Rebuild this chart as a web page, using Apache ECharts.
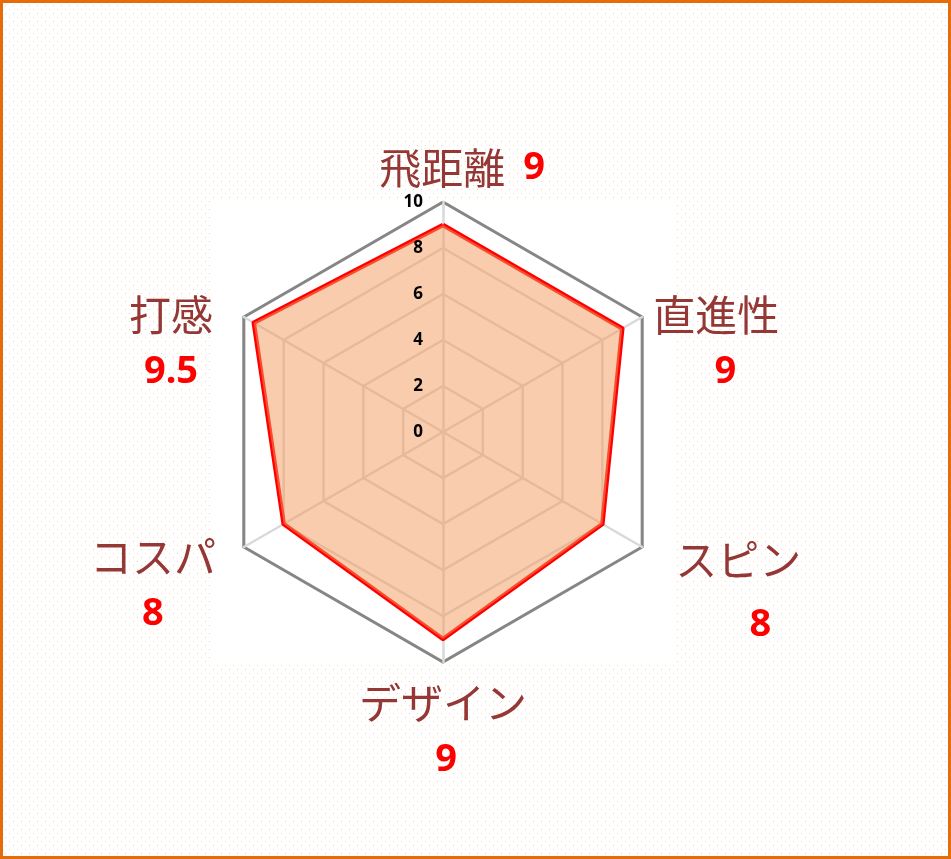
<!DOCTYPE html>
<html>
<head>
<meta charset="utf-8">
<script src="https://cdn.jsdelivr.net/npm/echarts@6/dist/echarts.min.js"></script>
<style>
html,body{margin:0;padding:0;width:951px;height:859px;overflow:hidden;}
#wrap{position:relative;width:951px;height:859px;background-color:#fff;
background-image:url("data:image/svg+xml,%3Csvg xmlns='http://www.w3.org/2000/svg' width='8' height='8'%3E%3Crect x='1' y='1' width='1' height='1' fill='%23fbcfa8'/%3E%3Crect x='5' y='5' width='1' height='1' fill='%23fbcfa8'/%3E%3C/svg%3E");}
#chart{position:absolute;left:0;top:0;width:951px;height:859px;}
#border{position:absolute;left:0;top:0;width:951px;height:859px;box-sizing:border-box;border:3px solid #E46C0A;pointer-events:none;}
</style>
</head>
<body>
<div id="wrap"><div id="chart"></div><div id="border"></div></div>
<script>
// ---- data (clockwise from top) ----
const categories = ['飛距離', '直進性', 'スピン', 'デザイン', 'コスパ', '打感'];
const scores = [9, 9, 8, 9, 8, 9.5];
const maxScore = 10;
const tickStep = 2;

// ---- layout (label placement only, same order as categories) ----
const nameGaps = [34, 51, 104, 70, 98, 50];
const namePads = [
  [0, 0, 0, 38],
  [104, 0, 0, 60],
  [0, 0, 21, 12],
  [0, 0, 0, 0],
  [0, 12, 20, 0],
  [103, 59, 0, 0]
];
// value-line styles per category (layout only)
const valueStyles = ['vt', 'v1', 'vs', 'v3', 'v', 'v'];

const C = [443, 432], R = 230;
// ECharts lays indicators out counter-clockwise; map clockwise order onto it
const order = categories.map((c, i) => (categories.length - i) % categories.length);
const ordCats = order.map(i => categories[i]);
const ordScores = order.map(i => scores[i]);

const indicators = order.map(i => ({
  name: categories[i], max: maxScore, min: 0, nameGap: nameGaps[i],
  nameTextStyle: { padding: namePads[i], align: 'center', verticalAlign: 'middle' }
}));

const labelIndicators = ordCats.map((c, k) => {
  const o = { name: c, max: maxScore, min: 0 };
  if (k === 0) {
    o.axisLabel = { show: true, fontSize: 17, fontWeight: 'bold', color: '#000',
      fontFamily: 'Noto Sans', margin: 20, showMinLabel: true, showMaxLabel: true };
  }
  return o;
});

const vBase = { fontFamily: 'Noto Sans', fontSize: 38, fontWeight: 'bold', color: '#FF0000', lineHeight: 57 };

const chart = echarts.init(document.getElementById('chart'), null, { renderer: 'canvas' });
chart.setOption({
  animation: false,
  graphic: [{
    type: 'rect', z: -10, silent: true,
    shape: { x: 213, y: 200, width: 463, height: 462 },
    style: { fill: '#ffffff' }
  }],
  radar: [{
    center: C, radius: R, startAngle: 90,
    shape: 'polygon', splitNumber: maxScore / tickStep,
    indicator: indicators,
    axisName: {
      show: true,
      formatter: function (name) {
        const i = categories.indexOf(name);
        const v = scores[i];
        const s = valueStyles[i];
        if (i === 0) return '{n|' + name + '}{' + s + '|' + v + '}';
        return '{n|' + name + '}\n{' + s + '|' + v + '}';
      },
      rich: {
        n: { fontFamily: 'Noto Sans CJK JP', fontSize: 42, color: '#953735', lineHeight: 57 },
        v: vBase,
        vt: Object.assign({}, vBase, { padding: [0, 0, 0, 18] }),
        v1: Object.assign({}, vBase, { padding: [0, 0, 0, 18] }),
        v3: Object.assign({}, vBase, { padding: [0, 0, 0, 6] }),
        vs: Object.assign({}, vBase, { padding: [16, 0, 0, 44] })
      }
    },
    axisLine: { show: true, lineStyle: { color: '#D9D9D9', width: 2.5 } },
    splitLine: { show: true, lineStyle: { color: '#D9D9D9', width: 2.5 } },
    splitArea: { show: false },
    axisTick: { show: false },
    axisLabel: { show: false }
  }, {
    center: C, radius: R, startAngle: 90,
    shape: 'polygon', splitNumber: 1,
    indicator: ordCats.map(c => ({ name: c, max: maxScore, min: 0 })),
    axisName: { show: false },
    axisLine: { show: false },
    splitLine: { show: true, lineStyle: { color: '#868686', width: 3 } },
    splitArea: { show: false },
    axisTick: { show: false },
    axisLabel: { show: false }
  }, {
    z: 5,
    center: C, radius: R, startAngle: 90,
    shape: 'polygon', splitNumber: maxScore / tickStep,
    indicator: labelIndicators,
    axisName: { show: false },
    axisLine: { show: false },
    splitLine: { show: false },
    splitArea: { show: false },
    axisTick: { show: false },
    axisLabel: { show: false }
  }],
  series: [{
    type: 'radar', radarIndex: 0, symbol: 'none', silent: true,
    lineStyle: { color: '#FF0000', width: 4.5 },
    areaStyle: { color: '#F1995B', opacity: 0.5 },
    data: [{ value: ordScores, name: 'score' }]
  }]
});
</script>
</body>
</html>
